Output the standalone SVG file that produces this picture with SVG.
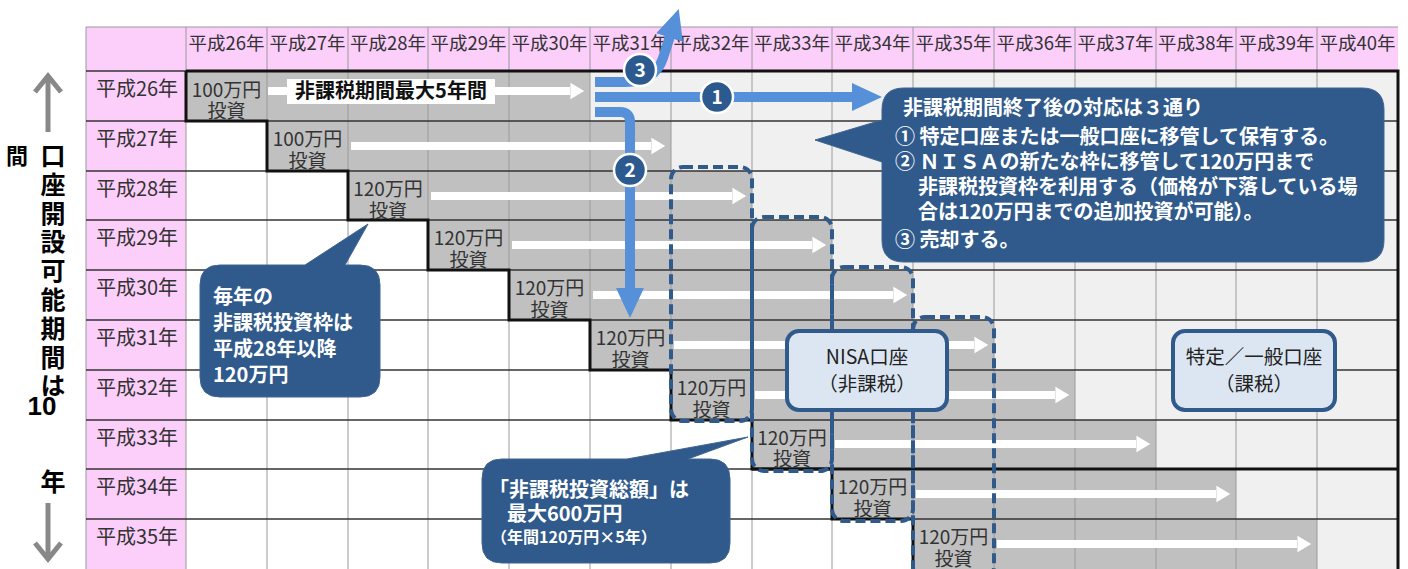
<svg xmlns="http://www.w3.org/2000/svg" width="1408" height="569" viewBox="0 0 1408 569">
<style>
text{font-family:'Noto Sans CJK JP','Noto Sans',sans-serif}
.hd{font-size:18.5px;fill:#333;text-anchor:middle}
.rl{font-size:20px;fill:#333;text-anchor:middle}
.inv{font-size:19px;fill:#333;text-anchor:middle}
.vl{font-size:25px;font-weight:bold;fill:#000;text-anchor:middle}
.ct{font-size:20px;font-weight:bold;fill:#fff}
.bx{font-size:19.5px;fill:#222;text-anchor:middle}
.hl{stroke:#333;stroke-width:1.3}
.vline{stroke:#9a9a9a;stroke-width:1}
.thick{fill:none;stroke:#111;stroke-width:3}
.wa{stroke:#fff;stroke-width:8;marker-end:url(#wh)}
.ba{fill:none;stroke:#5590d9;stroke-width:10;marker-end:url(#bl)}
.dash{fill:none;stroke:#2f5a8b;stroke-width:4;stroke-dasharray:10 5}
.call{fill:#2f5a8b;stroke:#40648f;stroke-width:1}
.acc{fill:#dce6f2;stroke:#2f5a8b;stroke-width:4}
.cir{fill:#2d5a8e;stroke:#fff;stroke-width:2.5}
.cn{font-size:19px;font-weight:bold;fill:#fff;text-anchor:middle}
.ga{fill:none;stroke:#888;stroke-width:5}
</style>
<defs>
<marker id="wh" markerUnits="userSpaceOnUse" viewBox="0 0 15 18" markerWidth="15" markerHeight="18" refX="3" refY="9" orient="auto"><path d="M0,0 L15,9 L0,18 Z" fill="#fff" stroke="#bbb" stroke-width="0.8"/></marker>
<marker id="bl" markerUnits="userSpaceOnUse" viewBox="0 0 30 28" markerWidth="30" markerHeight="28" refX="8" refY="14" orient="auto"><path d="M0,0 L30,14 L0,28 Z" fill="#5590d9"/></marker>
</defs>
<rect width="1408" height="569" fill="#fff"/>

<g id="grid">
<rect x="86" y="27" width="1312" height="44" fill="#fccffb"/>
<rect x="86" y="71" width="100" height="498" fill="#fccffb"/>
<rect x="186" y="71" width="1212" height="498" fill="#fff"/>
<polygon fill="#f0f0f0" points="590,71 1398,71 1398,569 1317,569 1317,519 1236,519 1236,469 1156,469 1156,420 1075,420 1075,370 994,370 994,320 913,320 913,270 832,270 832,220 752,220 752,171 671,171 671,121 590,121"/>
<polygon fill="#c0c0c0" points="186,71 590,71 590,121 671,121 671,171 752,171 752,220 832,220 832,270 913,270 913,320 994,320 994,370 1075,370 1075,420 1156,420 1156,469 1236,469 1236,519 1317,519 1317,569 913,569 913,519 832,519 832,469 752,469 752,420 671,420 671,370 590,370 590,320 509,320 509,270 428,270 428,220 348,220 348,171 267,171 267,121 186,121"/>
<g class="vline">
<line x1="86" y1="27" x2="86" y2="569"/><line x1="186" y1="27" x2="186" y2="569"/>
<line x1="267" y1="27" x2="267" y2="569"/><line x1="348" y1="27" x2="348" y2="569"/>
<line x1="428" y1="27" x2="428" y2="569"/><line x1="509" y1="27" x2="509" y2="569"/>
<line x1="590" y1="27" x2="590" y2="569"/><line x1="671" y1="27" x2="671" y2="569"/>
<line x1="752" y1="27" x2="752" y2="569"/><line x1="832" y1="27" x2="832" y2="569"/>
<line x1="913" y1="27" x2="913" y2="569"/><line x1="994" y1="27" x2="994" y2="569"/>
<line x1="1075" y1="27" x2="1075" y2="569"/><line x1="1156" y1="27" x2="1156" y2="569"/>
<line x1="1236" y1="27" x2="1236" y2="569"/><line x1="1317" y1="27" x2="1317" y2="569"/>
<line x1="86" y1="27" x2="1398" y2="27"/>
</g>
<g class="hl">
<line x1="86" y1="71" x2="186" y2="71"/>
<line x1="86" y1="121" x2="1398" y2="121"/><line x1="86" y1="171" x2="1398" y2="171"/>
<line x1="86" y1="220" x2="1398" y2="220"/><line x1="86" y1="270" x2="1398" y2="270"/>
<line x1="86" y1="320" x2="1398" y2="320"/><line x1="86" y1="370" x2="1398" y2="370"/>
<line x1="86" y1="420" x2="1398" y2="420"/><line x1="86" y1="469" x2="1398" y2="469"/>
<line x1="86" y1="519" x2="1398" y2="519"/>
</g>
<path class="thick" d="M186,71 V121 H267 V171 H348 V220 H428 V270 H509 V320 H590 V370 H671 V420 H752 V469 H832 V519 H913 V569"/>
<path class="thick" d="M186,71 H1398 V569"/>
<path class="thick" d="M752,469 H1398"/>
</g>

<g id="header">
<text class="hd" x="226.5" y="50">平成26年</text>
<text class="hd" x="307.5" y="50">平成27年</text>
<text class="hd" x="388" y="50">平成28年</text>
<text class="hd" x="468.5" y="50">平成29年</text>
<text class="hd" x="549.5" y="50">平成30年</text>
<text class="hd" x="630.5" y="50">平成31年</text>
<text class="hd" x="711.5" y="50">平成32年</text>
<text class="hd" x="792" y="50">平成33年</text>
<text class="hd" x="872.5" y="50">平成34年</text>
<text class="hd" x="953.5" y="50">平成35年</text>
<text class="hd" x="1034.5" y="50">平成36年</text>
<text class="hd" x="1115.5" y="50">平成37年</text>
<text class="hd" x="1196" y="50">平成38年</text>
<text class="hd" x="1276.5" y="50">平成39年</text>
<text class="hd" x="1357.5" y="50">平成40年</text>
</g>

<g id="row-labels">
<text class="rl" x="137" y="96">平成26年</text>
<text class="rl" x="137" y="146">平成27年</text>
<text class="rl" x="137" y="196">平成28年</text>
<text class="rl" x="137" y="245">平成29年</text>
<text class="rl" x="137" y="295">平成30年</text>
<text class="rl" x="137" y="345">平成31年</text>
<text class="rl" x="137" y="395">平成32年</text>
<text class="rl" x="137" y="445">平成33年</text>
<text class="rl" x="137" y="494">平成34年</text>
<text class="rl" x="137" y="544">平成35年</text>
</g>

<g id="side-label">
<line class="ga" x1="48" y1="132" x2="48" y2="76"/>
<polyline class="ga" points="35,92 48,76 61,92"/>
<line class="ga" x1="48" y1="503" x2="48" y2="559"/>
<polyline class="ga" points="35,543 48,559 61,543"/>
<text class="vl" x="17" y="164" style="font-size:22px">間</text>
<text x="53" y="143" style="writing-mode:vertical-rl;font-size:25px;font-weight:bold;fill:#000;letter-spacing:3.8px">口座開設可能期間は</text>
<text class="vl" x="42" y="415" style="font-family:'Liberation Sans',sans-serif;font-size:26px">10</text>
<text class="vl" x="53" y="491">年</text>
</g>

<g id="investments">
<text class="inv"><tspan x="226.5" y="97">100万円</tspan><tspan x="226.5" y="118">投資</tspan></text>
<text class="inv"><tspan x="307.5" y="146">100万円</tspan><tspan x="307.5" y="168">投資</tspan></text>
<text class="inv"><tspan x="388" y="196">120万円</tspan><tspan x="388" y="218">投資</tspan></text>
<text class="inv"><tspan x="468.5" y="245">120万円</tspan><tspan x="468.5" y="267">投資</tspan></text>
<text class="inv"><tspan x="549.5" y="295">120万円</tspan><tspan x="549.5" y="317">投資</tspan></text>
<text class="inv"><tspan x="630.5" y="345">120万円</tspan><tspan x="630.5" y="367">投資</tspan></text>
<text class="inv"><tspan x="711.5" y="395">120万円</tspan><tspan x="711.5" y="417">投資</tspan></text>
<text class="inv"><tspan x="792" y="445">120万円</tspan><tspan x="792" y="466">投資</tspan></text>
<text class="inv"><tspan x="872.5" y="494">120万円</tspan><tspan x="872.5" y="516">投資</tspan></text>
<text class="inv"><tspan x="953.5" y="544">120万円</tspan><tspan x="953.5" y="566">投資</tspan></text>
</g>

<g id="connectors">
<line class="wa" x1="268" y1="91" x2="573" y2="91"/>
<line class="wa" x1="351" y1="146" x2="654" y2="146"/>
<line class="wa" x1="431" y1="196" x2="735" y2="196"/>
<line class="wa" x1="512" y1="245" x2="815" y2="245"/>
<line class="wa" x1="593" y1="295" x2="896" y2="295"/>
<line class="wa" x1="674" y1="345" x2="977" y2="345"/>
<line class="wa" x1="755" y1="395" x2="1058" y2="395"/>
<line class="wa" x1="835" y1="444" x2="1139" y2="444"/>
<line class="wa" x1="916" y1="494" x2="1219" y2="494"/>
<line class="wa" x1="997" y1="544" x2="1300" y2="544"/>
<rect x="287" y="79" width="208" height="25" fill="#fff"/>
<text x="391" y="98" style="font-size:20px;font-weight:bold;fill:#111;text-anchor:middle">非課税期間最大5年間</text>
</g>

<g id="nisa-frames">
<rect class="dash" x="671" y="167" width="81" height="254" rx="12"/>
<rect class="dash" x="752" y="217" width="80" height="254" rx="12"/>
<rect class="dash" x="832" y="267" width="81" height="254" rx="12"/>
<rect class="dash" x="913" y="317" width="81" height="262" rx="12"/>
</g>

<g id="options">
<path class="ba" d="M595,97 H860"/>
<path class="ba" d="M595,82 H625 Q655,82 663,58 L672,30"/>
<path class="ba" d="M595,112 H620 Q630,112 630,122 V296"/>
<g id="opt1"><circle class="cir" cx="717" cy="97" r="16"/><text class="cn" x="717" y="104">1</text></g>
<g id="opt2"><circle class="cir" cx="630" cy="170" r="16"/><text class="cn" x="630" y="177">2</text></g>
<g id="opt3"><circle class="cir" cx="640" cy="70" r="16"/><text class="cn" x="640" y="77">3</text></g>
</g>

<g id="callout-options">
<path class="call" d="M904,88 H1362 Q1384,88 1384,110 V240 Q1384,262 1362,262 H904 Q882,262 882,240 V162 L815,140 L882,120 V110 Q882,88 904,88 Z"/>
<text class="ct" x="903" y="115">非課税期間終了後の対応は３通り</text>
<text class="ct" x="895" y="144">① 特定口座または一般口座に移管して保有する。</text>
<text class="ct" x="895" y="169">② ＮＩＳＡの新たな枠に移管して120万円まで</text>
<text class="ct" x="918" y="194">非課税投資枠を利用する（価格が下落している場</text>
<text class="ct" x="918" y="219">合は120万円までの追加投資が可能）。</text>
<text class="ct" x="895" y="247">③ 売却する。</text>
</g>

<g id="callout-annual">
<path class="call" d="M220,265 H305 L368,224 L345,265 H360 Q380,265 380,285 V377 Q380,397 360,397 H220 Q200,397 200,377 V285 Q200,265 220,265 Z"/>
<text class="ct" x="213" y="304">毎年の</text>
<text class="ct" x="213" y="330">非課税投資枠は</text>
<text class="ct" x="213" y="356">平成28年以降</text>
<text class="ct" x="213" y="382">120万円</text>
</g>

<g id="callout-total">
<path class="call" d="M502,459 H627 L748,437 L688,459 H710 Q730,459 730,479 V543 Q730,563 710,563 H502 Q482,563 482,543 V479 Q482,459 502,459 Z"/>
<text class="ct" x="489" y="497">「非課税投資総額」は</text>
<text class="ct" x="507" y="521">最大600万円</text>
<text class="ct" x="491" y="543" style="font-size:16px">（年間120万円×5年）</text>
</g>

<g id="nisa-account">
<rect class="acc" x="787" y="331" width="160" height="79" rx="12"/>
<text class="bx" x="867" y="364">NISA口座</text>
<text class="bx" x="867" y="391">（非課税）</text>
</g>

<g id="taxable-account">
<rect class="acc" x="1173" y="331" width="162" height="79" rx="12"/>
<text class="bx" x="1254" y="364">特定／一般口座</text>
<text class="bx" x="1254" y="391">（課税）</text>
</g>
</svg>
